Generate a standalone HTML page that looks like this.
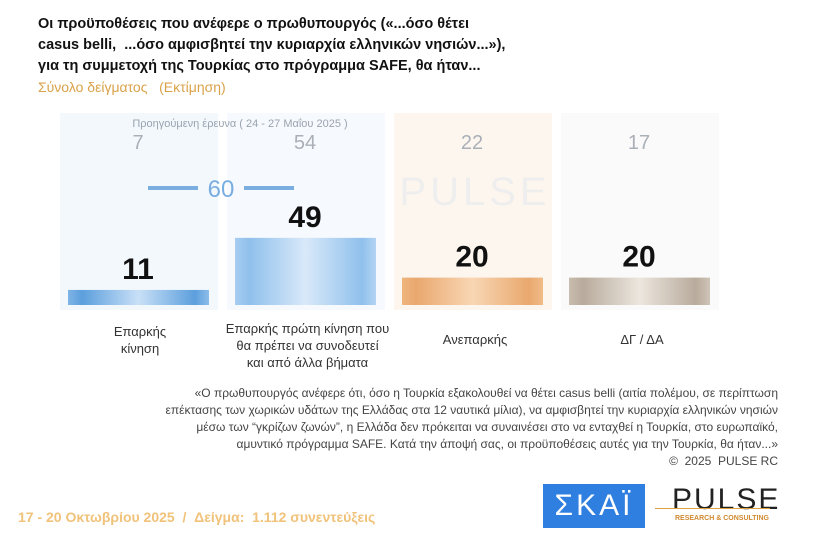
<!DOCTYPE html>
<html><head><meta charset="utf-8"><style>
body{margin:0;width:823px;height:545px;background:#fff;font-family:"Liberation Sans","DejaVu Sans",sans-serif;position:relative;overflow:hidden}
.t{position:absolute;left:38px;font-weight:bold;font-size:14.5px;color:#111;line-height:21px}
.lab{position:absolute;font-size:13px;color:#333;text-align:center;line-height:17px}
</style></head><body>
<div class="t" style="top:14px">Οι προϋποθέσεις που ανέφερε ο πρωθυπουργός («...όσο θέτει<br>casus belli, &nbsp;...όσο αμφισβητεί την κυριαρχία ελληνικών νησιών...»),<br>για τη συμμετοχή της Τουρκίας στο πρόγραμμα SAFE, θα ήταν...</div>
<div style="position:absolute;left:38px;top:79px;font-size:14px;color:#d9a24a">Σύνολο δείγματος &nbsp;&nbsp;(Εκτίμηση)</div>
<svg id="c" width="823" height="545" style="position:absolute;left:0;top:0">
<defs>
<linearGradient id="gb" x1="0" x2="1"><stop offset="0" stop-color="#7fb4e6"/><stop offset=".1" stop-color="#5c9fdd"/><stop offset=".5" stop-color="#c9e0f7"/><stop offset=".9" stop-color="#5c9fdd"/><stop offset="1" stop-color="#8dbde9"/></linearGradient>
<linearGradient id="gb2" x1="0" x2="1"><stop offset="0" stop-color="#a7cdf1"/><stop offset=".1" stop-color="#8fc0ec"/><stop offset=".5" stop-color="#d9e9f9"/><stop offset=".9" stop-color="#8fc0ec"/><stop offset="1" stop-color="#b3d4f3"/></linearGradient>
<linearGradient id="go" x1="0" x2="1"><stop offset="0" stop-color="#eeb57e"/><stop offset=".1" stop-color="#e9a86e"/><stop offset=".5" stop-color="#f8d6b4"/><stop offset=".9" stop-color="#e9a86e"/><stop offset="1" stop-color="#f0bb88"/></linearGradient>
<linearGradient id="gg" x1="0" x2="1"><stop offset="0" stop-color="#c9bdb0"/><stop offset=".1" stop-color="#b8ab9c"/><stop offset=".5" stop-color="#ece6de"/><stop offset=".9" stop-color="#b8ab9c"/><stop offset="1" stop-color="#cfc4b8"/></linearGradient>
</defs>
<g id="g"></g>
</svg>
<div class="lab" style="left:60px;top:323px;width:160px">Επαρκής<br>κίνηση</div>
<div class="lab" style="left:215px;top:320px;width:185px">Επαρκής πρώτη κίνηση που<br>θα πρέπει να συνοδευτεί<br>και από άλλα βήματα</div>
<div class="lab" style="left:395px;top:331px;width:160px">Ανεπαρκής</div>
<div class="lab" style="left:562px;top:331px;width:160px">ΔΓ / ΔΑ</div>
<div style="position:absolute;left:60px;width:718px;top:385px;font-size:12px;color:#444;text-align:right;line-height:17px">«Ο πρωθυπουργός ανέφερε ότι, όσο η Τουρκία εξακολουθεί να θέτει casus belli (αιτία πολέμου, σε περίπτωση<br>επέκτασης των χωρικών υδάτων της Ελλάδας στα 12 ναυτικά μίλια), να αμφισβητεί την κυριαρχία ελληνικών νησιών<br>μέσω των “γκρίζων ζωνών”, η Ελλάδα δεν πρόκειται να συναινέσει στο να ενταχθεί η Τουρκία, στο ευρωπαϊκό,<br>αμυντικό πρόγραμμα SAFE. Κατά την άποψή σας, οι προϋποθέσεις αυτές για την Τουρκία, θα ήταν...»<br>© &nbsp;2025 &nbsp;PULSE RC</div>
<div style="position:absolute;left:18px;top:509px;font-size:14px;font-weight:bold;color:#f0c27a">17 - 20 Οκτωβρίου 2025 &nbsp;/ &nbsp;Δείγμα: &nbsp;1.112 συνεντεύξεις</div>
<div style="position:absolute;left:543px;top:484px;width:102px;height:44px;background:#2f7fe0;color:#fff;font-size:30px;text-align:center;line-height:44px;letter-spacing:3px">ΣΚΑΪ</div>
<div style="position:absolute;left:672px;top:483px;font-size:30px;color:#222;letter-spacing:2px">PULSE</div>
<div style="position:absolute;left:655px;top:508px;width:115px;height:1px;background:#e0a040"></div>
<div style="position:absolute;left:675px;top:515px;font-size:7px;font-weight:bold;color:#d08a30">RESEARCH &amp; CONSULTING</div>
<script>
const categories=["Επαρκής κίνηση","Επαρκής πρώτη κίνηση","Ανεπαρκής","ΔΓ / ΔΑ"];
const current=[11,49,20,20];
const previous=[7,54,22,17];
const combined=60;
const fills=["url(#gb)","url(#gb2)","url(#go)","url(#gg)"];
const bgs=["#f3f8fd","#f6f9fd","#fdf6ee","#fbfafa"];
const g=document.getElementById('g');
const NS="http://www.w3.org/2000/svg";
const base=305, scale=1.37;
const x=i=>[68,235,402,569][i];
const y=v=>base-v*scale;
function el(t,a){const e=document.createElementNS(NS,t);for(const k in a)e.setAttribute(k,a[k]);g.appendChild(e);return e;}
categories.forEach((c,i)=>{
 const b=el('rect',{x:x(i)-8,y:113,width:158,height:197,fill:bgs[i]});
 
 
});
const t0=el('text',{x:240,y:127,'font-size':11,fill:'#9aa3b0','text-anchor':'middle'});t0.textContent="Προηγούμενη έρευνα  ( 24 - 27 Μαΐου 2025 )";


const w=el('text',{x:475,y:205,'font-size':40,fill:'#eeeeee','text-anchor':'middle','letter-spacing':4});w.textContent="PULSE";


categories.forEach((c,i)=>{
 const r=el('rect',{x:x(i),y:y(current[i]),width:141,height:current[i]*scale,fill:fills[i]});
 
 
 const v=el('text',{x:x(i)+70,y:y(current[i])-11,'font-size':30,'font-weight':'bold',fill:'#111','text-anchor':'middle','font-family':'"Liberation Sans Narrow","Liberation Sans",sans-serif'});
 v.textContent=current[i];
 
 
 const p=el('text',{x:x(i)+70,y:149,'font-size':20,fill:'#aab0b8','text-anchor':'middle'});
 p.textContent=previous[i];
 
 
});
const l1=el('line',{x1:148,x2:198,y1:188,y2:188,stroke:'#7aaee0','stroke-width':4});


const l2=el('line',{x1:244,x2:294,y1:188,y2:188,stroke:'#7aaee0','stroke-width':4});


const ct=el('text',{x:221,y:197,'font-size':24,fill:'#7aaee0','text-anchor':'middle'});ct.textContent=combined;


</script>
</body></html>
